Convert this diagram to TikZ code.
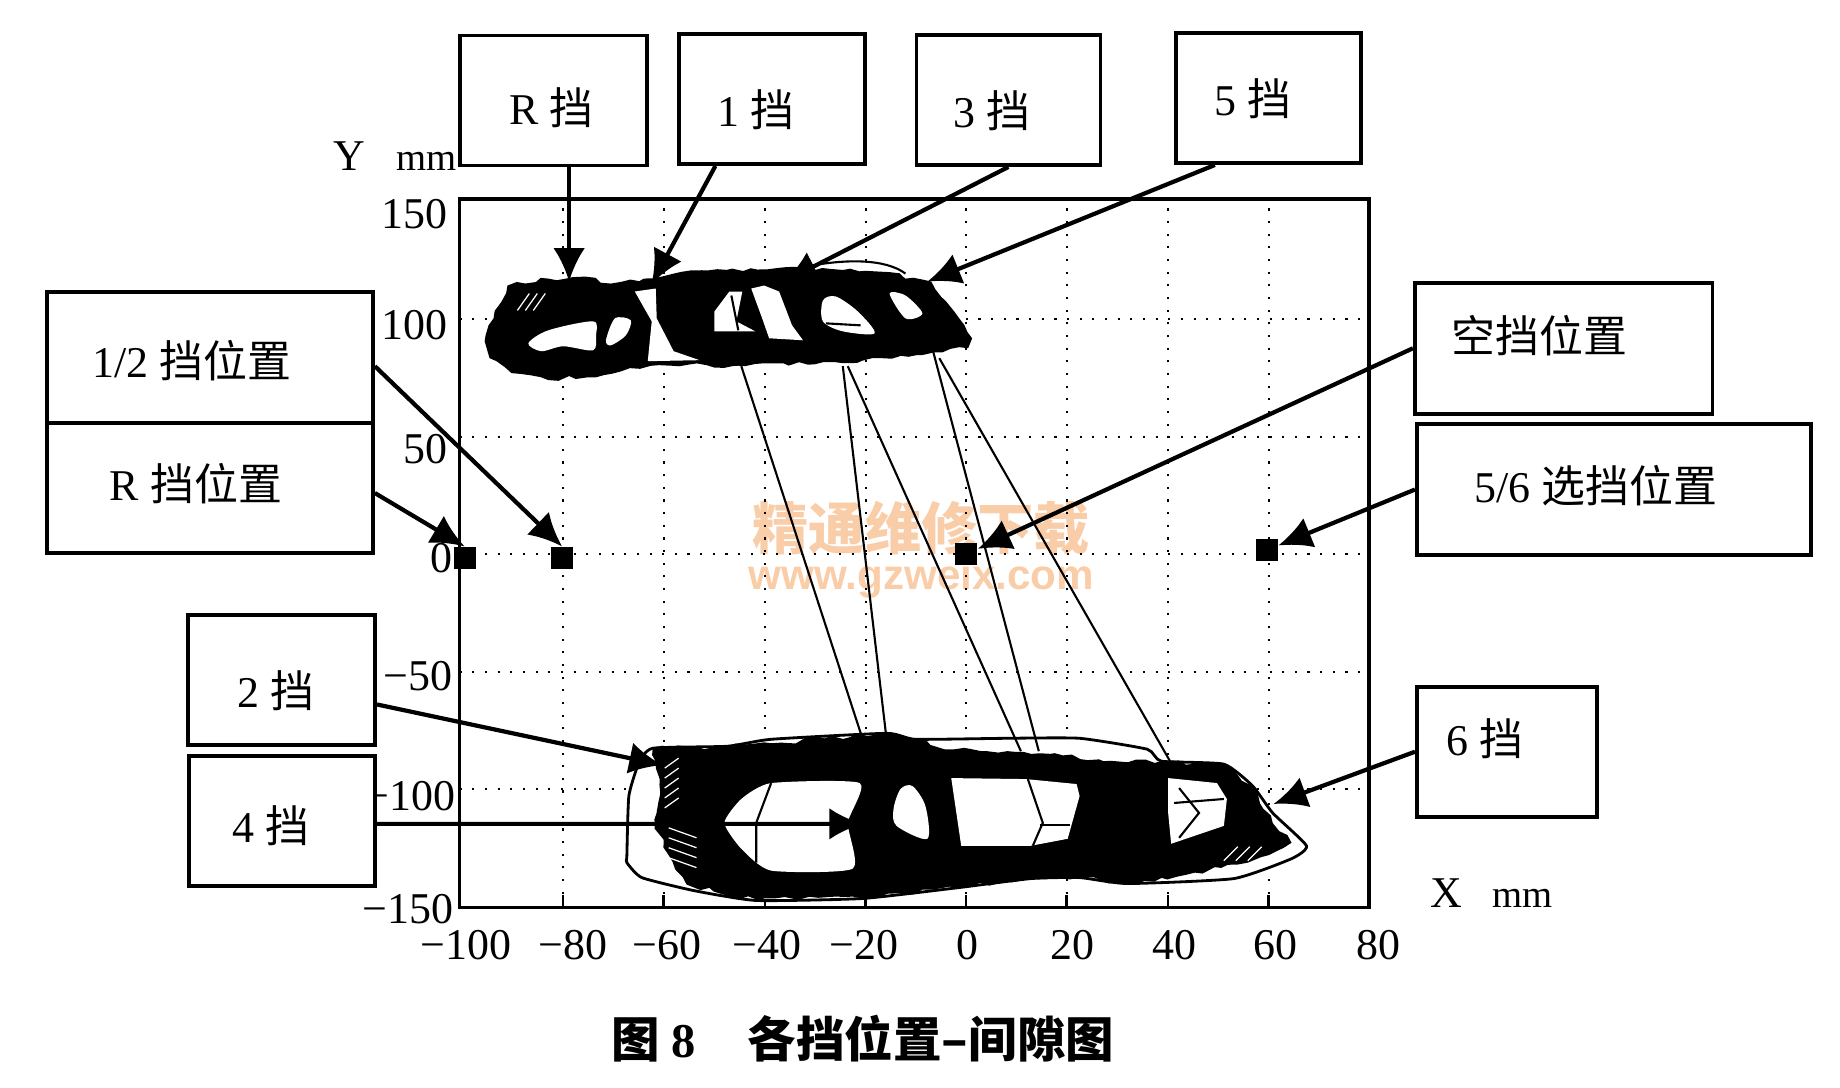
\documentclass[tikz,border=0pt]{standalone}
\usepackage{fontspec}
\setmainfont{Liberation Serif}
\newfontfamily\cjk{Noto Sans CJK SC}
\newfontfamily\wmfont{Liberation Sans}
\usetikzlibrary{arrows.meta,decorations.pathmorphing}
\definecolor{wmorange}{HTML}{F9CDA8}
\pgfmathsetseed{8}
\tikzset{
  gearbox/.style={draw,line width=1.1pt,fill=white,inner sep=0pt},
  gearline/.style={line width=1.2pt,-{Latex[length=9.5pt,width=9pt]}},
  gearlabel/.style={font=\fontsize{12.5}{14}\selectfont},
  ticklabel/.style={font=\fontsize{12.5}{14}\selectfont},
  posmark/.style={fill=black,minimum size=0.22cm,inner sep=0pt},
  griddot/.style={line width=0.6pt,dash pattern=on 0.6pt off 3pt},
  swingline/.style={line width=0.6pt},
  roughedge/.style={decorate,decoration={random steps,segment length=2.5pt,amplitude=0.7pt}},
  hatchline/.style={white,line width=0.35pt},
}
\begin{document}
\begin{tikzpicture}[scale=0.995]
\useasboundingbox (0,-0.0546) rectangle (18.492,10.87);

% watermark
\node[text=wmorange,inner sep=0pt,font=\cjk\bfseries\fontsize{16}{18}\selectfont] (wmname) at (9.26,5.56) {精通维修下载};
\node[text=wmorange,inner sep=0pt,font=\wmfont\bfseries\fontsize{12}{13}\selectfont] (wmurl) at (9.26,5.05) {www.gzweix.com};

% grid and frame
\foreach \gx in {5.66,6.67,7.69,8.70,9.71,10.72,11.74,12.75}
  \draw[griddot] (\gx,1.76) -- (\gx,8.87);
\foreach \gy in {2.94,4.12,5.30,6.48,7.66}
  \draw[griddot] (4.62,\gy) -- (13.76,\gy);
\draw[line width=1pt] (4.62,1.75) rectangle (13.76,8.87);
\foreach \gx in {5.66,6.67,7.69,8.70,9.71,10.72,11.74,12.75}
  \draw[line width=0.7pt] (\gx,1.75) -- (\gx,1.88);

% tick labels
\foreach \yname/\ylab/\yend/\ypos in {a/150/4.50/8.72,b/100/4.50/7.60,c/50/4.50/6.36,d/0/4.55/5.26,e/−50/4.55/4.08,f/−100/4.58/2.87,g/−150/4.56/1.73}
  \node[ticklabel,anchor=east,inner sep=0pt] (ytick\yname) at (\yend,\ypos) {\ylab};
\foreach \xname/\xlab/\xpos in {a/−100/4.68,b/−80/5.76,c/−60/6.70,d/−40/7.71,e/−20/8.68,f/0/9.72,g/20/10.78,h/40/11.80,i/60/12.82,j/80/13.85}
  \node[ticklabel,inner sep=0pt] (xtick\xname) at (\xpos,1.37) {\xlab};
\node[ticklabel] (ylabel) at (3.97,9.30) {Y\hspace{0.7em}{\fontsize{11}{13}\selectfont mm}};
\node[ticklabel] (xlabel) at (14.99,1.89) {X\hspace{0.7em}{\fontsize{11}{13}\selectfont mm}};

% upper trace
\fill[black,roughedge] (4.88,7.50) -- (4.96,7.67) -- (5.10,8.00) -- (5.51,8.07) -- (5.88,8.09) -- (6.14,8.02) -- (6.47,8.07) -- (6.77,8.12) -- (7.36,8.17) -- (8.10,8.17) -- (8.84,8.14) -- (9.36,8.04) -- (9.59,7.74) -- (9.77,7.47) -- (9.73,7.37) -- (9.21,7.30) -- (8.47,7.22) -- (7.36,7.19) -- (6.62,7.20) -- (6.33,7.17) -- (6.07,7.10) -- (5.51,7.05) -- (5.14,7.12) -- (4.92,7.27) -- cycle;
\fill[white] plot[smooth cycle,tension=0.5] coordinates {(5.31,7.42) (5.51,7.55) (5.96,7.64) (5.99,7.50) (5.96,7.35) (5.66,7.39) (5.44,7.34)};
\fill[white] plot[smooth cycle,tension=0.5] coordinates {(6.09,7.45) (6.18,7.67) (6.34,7.65) (6.29,7.50) (6.14,7.40)};
\fill[white] (6.38,7.94) -- (6.59,7.97) -- (6.60,7.67) -- (6.77,7.34) -- (7.03,7.25) -- (6.51,7.24) -- (6.55,7.64) -- cycle;
\fill[white] (7.18,7.74) -- (7.33,7.94) -- (7.46,7.94) -- (7.40,7.64) -- (7.59,7.54) -- (7.18,7.54) -- cycle;
\fill[white] (7.55,7.97) -- (7.68,8.00) -- (7.83,7.94) -- (7.96,7.60) -- (8.07,7.45) -- (7.73,7.47) -- (7.66,7.67) -- cycle;
\fill[white] plot[smooth cycle,tension=0.5] coordinates {(8.27,7.85) (8.40,7.89) (8.62,7.74) (8.79,7.52) (8.47,7.54) (8.27,7.64)};
\fill[white] plot[smooth cycle,tension=0.5] coordinates {(8.94,7.92) (9.10,7.90) (9.27,7.72) (9.10,7.67)};
\draw[swingline] (7.48,7.95) -- (7.66,7.50);
\draw[swingline] (7.35,7.90) -- (7.42,7.55);
\draw[swingline] (8.30,7.62) -- (8.65,7.60);
\draw[swingline] (8.10,8.19) .. controls (8.50,8.27) and (8.90,8.27) .. (9.10,8.12);
\foreach \hx in {5.20,5.28,5.36}
  \draw[hatchline] (\hx,7.75) -- (\hx+0.12,7.92);

% lower trace
\draw[line width=0.8pt,fill=white] plot[smooth cycle,tension=0.3] coordinates {(6.30,2.27) (6.32,2.87) (6.42,3.20) (6.56,3.35) (7.31,3.37) (7.75,3.44) (8.91,3.50) (9.20,3.44) (10.12,3.45) (10.85,3.45) (11.53,3.34) (11.67,3.22) (12.30,3.19) (12.59,2.97) (12.79,2.70) (13.13,2.37) (12.98,2.24) (12.40,2.04) (11.33,1.99) (10.85,2.05) (10.36,2.04) (9.64,1.95) (8.67,1.84) (7.60,1.82) (6.97,1.92) (6.45,2.05) (6.30,2.20)};
\fill[black,roughedge] (6.56,3.35) -- (7.31,3.37) -- (7.75,3.40) -- (8.91,3.50) -- (9.20,3.44) -- (9.49,3.34) -- (10.60,3.30) -- (11.09,3.22) -- (11.67,3.22) -- (12.30,3.19) -- (12.59,2.97) -- (12.79,2.60) -- (12.98,2.40) -- (12.54,2.20) -- (12.01,2.10) -- (11.33,1.99) -- (10.85,2.05) -- (10.36,2.04) -- (9.64,1.95) -- (8.67,1.84) -- (7.45,1.84) -- (6.90,1.98) -- (6.58,2.54) -- (6.63,3.04) -- cycle;
\fill[white] plot[smooth cycle,tension=0.35] coordinates {(7.28,2.60) (7.45,2.84) (7.75,3.00) (8.64,3.00) (8.52,2.60) (8.57,2.14) (7.75,2.12) (7.45,2.34)};
\fill[white] plot[smooth cycle,tension=0.5] coordinates {(9.05,2.94) (9.17,2.97) (9.30,2.77) (9.32,2.44) (9.01,2.57) (8.98,2.74)};
\fill[white] (9.56,3.05) -- (10.31,3.04) -- (10.82,2.99) -- (10.85,2.87) -- (10.73,2.44) -- (10.36,2.37) -- (9.66,2.37) -- cycle;
\fill[white] (11.74,3.05) -- (12.23,3.00) -- (12.33,2.84) -- (12.30,2.57) -- (11.77,2.39) -- (11.74,2.70) -- cycle;
\draw[swingline] (7.75,3.00) -- (7.60,2.60) -- (7.60,2.20);
\draw[swingline] (10.33,3.04) -- (10.48,2.60) -- (10.38,2.37);
\draw[swingline] (10.45,2.58) -- (10.75,2.58);
\draw[swingline] (11.85,2.95) -- (12.05,2.70) -- (11.85,2.45);
\draw[swingline] (11.80,2.80) -- (12.30,2.84);
\foreach \hy in {2.75,2.85,2.95,3.05,3.15}
  \draw[hatchline] (6.68,\hy) -- (6.82,\hy+0.10);
\foreach \hy in {2.15,2.25,2.35,2.45}
  \draw[hatchline] (6.72,\hy+0.10) -- (7.00,\hy);
\foreach \hx in {12.30,12.42,12.54}
  \draw[hatchline] (\hx,2.22) -- (\hx+0.14,2.36);

% shift paths between the two traces
\draw[swingline] (7.45,7.19) -- (8.67,3.44);
\draw[swingline] (8.47,7.19) -- (8.91,3.44);
\draw[swingline] (8.52,7.19) -- (10.26,3.32);
\draw[swingline] (9.38,7.33) -- (10.44,3.32);
\draw[swingline] (9.44,7.27) -- (11.77,3.20);

% position marks
\node[posmark] (posA) at (4.67,5.26) {};
\node[posmark] (posB) at (5.65,5.26) {};
\node[posmark] (posC) at (9.71,5.30) {};
\node[posmark] (posD) at (12.73,5.34) {};

% free ends on the traces
\coordinate (tipR) at (5.72,8.04);
\coordinate (tipA) at (6.55,8.02);
\coordinate (tipC) at (7.88,8.04);
\coordinate (tipE) at (9.32,8.04);
\coordinate (tipB) at (6.66,3.18);
\coordinate (tipD) at (8.67,2.59);
\coordinate (tipF) at (12.80,2.79);

% boxes
\node[gearbox,minimum width=1.87cm,minimum height=1.30cm] (boxR) at (5.56,9.86) {};
\node[gearbox,minimum width=1.86cm,minimum height=1.30cm] (boxA) at (7.755,9.875) {};
\node[gearbox,minimum width=1.84cm,minimum height=1.30cm] (boxC) at (10.135,9.865) {};
\node[gearbox,minimum width=1.85cm,minimum height=1.30cm] (boxE) at (12.75,9.885) {};
\node[gearbox,minimum width=3.26cm,minimum height=1.31cm] (boxAB) at (2.11,7.28) {};
\node[gearbox,minimum width=3.26cm,minimum height=1.30cm] (boxRP) at (2.11,5.965) {};
\node[gearbox,minimum width=1.87cm,minimum height=1.30cm] (boxB) at (2.83,4.035) {};
\node[gearbox,minimum width=1.86cm,minimum height=1.30cm] (boxD) at (2.835,2.615) {};
\node[gearbox,minimum width=2.975cm,minimum height=1.31cm] (boxN) at (15.715,7.37) {};
\node[gearbox,minimum width=3.94cm,minimum height=1.31cm] (boxS) at (16.22,5.95) {};
\node[gearbox,minimum width=1.80cm,minimum height=1.30cm] (boxF) at (15.145,3.315) {};

\node[gearlabel] (labR) at (5.54,9.785) {R {\cjk 挡}};
\node[gearlabel] (labA) at (7.60,9.77) {1 {\cjk 挡}};
\node[gearlabel] (labC) at (9.97,9.76) {3 {\cjk 挡}};
\node[gearlabel] (labE) at (12.59,9.88) {5 {\cjk 挡}};
\node[gearlabel] (labAB) at (1.93,7.25) {1/2 {\cjk 挡位置}};
\node[gearlabel] (labRP) at (1.97,6.01) {R {\cjk 挡位置}};
\node[gearlabel] (labB) at (2.77,3.93) {2 {\cjk 挡}};
\node[gearlabel] (labD) at (2.72,2.57) {4 {\cjk 挡}};
\node[gearlabel] (labN) at (15.47,7.50) {\cjk 空挡位置};
\node[gearlabel] (labS) at (16.04,5.99) {5/6 {\cjk 选挡位置}};
\node[gearlabel] (labF) at (14.92,3.45) {6 {\cjk 挡}};

% connectors
\draw[gearline] (boxR.south -| tipR) -- (tipR);
\draw[gearline] ([xshift=-0.565cm]boxA.south) -- (tipA);
\draw[gearline] (boxC.south) -- (tipC);
\draw[gearline] ([xshift=-0.54cm]boxE.south) -- (tipE);
\draw[gearline] ([yshift=-0.09cm]boxAB.east) -- (posB.north);
\draw[gearline] ([yshift=-0.05cm]boxRP.east) -- (posA.north);
\draw[gearline] (boxN.west) -- (posC);
\draw[gearline] (boxS.west) -- (posD);
\draw[gearline] ([yshift=-0.245cm]boxB.east) -- (tipB);
\draw[gearline] ([yshift=-0.025cm]boxD.east) -- (tipD);
\draw[gearline] (boxF.west) -- (tipF);

% caption
\node[font=\bfseries\fontsize{13.8}{15}\selectfont] (caption) at (8.67,0.43) {{\cjk 图} 8\hspace{14.7pt}{\cjk 各挡位置–间隙图}};
\end{tikzpicture}
\end{document}
